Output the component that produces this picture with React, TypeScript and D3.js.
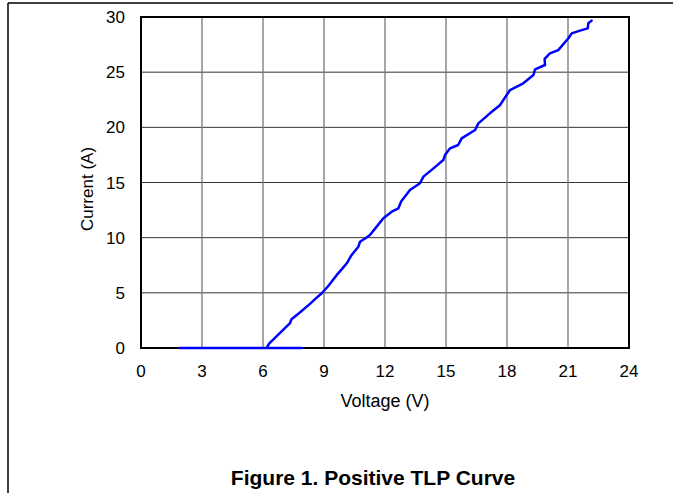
import { scaleLinear, line } from "d3"

const xTicks = [0, 3, 6, 9, 12, 15, 18, 21, 24]
const yTicks = [0, 5, 10, 15, 20, 25, 30]

// off-state leg at zero current, then the snapback rise
const voltage = [
  1.9, 7.9, 6.18, 6.3, 6.8, 7.33, 7.4, 7.8, 8.31, 8.6, 8.89, 9.2, 9.62, 9.9, 10.12, 10.36, 10.69, 10.77, 11.0,
  11.26, 11.59, 11.92, 12.33, 12.66, 12.8, 13.23, 13.72, 13.89, 14.4, 14.87, 14.95, 15.2, 15.6, 15.77, 16.43,
  16.59, 17.16, 17.65, 18.15, 18.8, 19.3, 19.38, 19.87, 19.85, 20.11, 20.52, 21.02, 21.18, 21.59, 21.97, 22.0, 22.16,
]
const current = [
  0, 0, 0, 0.4, 1.3, 2.26, 2.6, 3.2, 4.0, 4.5, 4.96, 5.6, 6.6, 7.2, 7.68, 8.43, 9.18, 9.63, 9.9,
  10.24, 11.0, 11.76, 12.35, 12.66, 13.3, 14.32, 14.93, 15.53, 16.3, 17.04, 17.49, 18.1, 18.4, 19.0, 19.76,
  20.36, 21.27, 22.0, 23.38, 23.99, 24.74, 25.25, 25.65, 26.2, 26.7, 27.0, 28.07, 28.52, 28.76, 28.97, 29.43, 29.67,
]

const W = 673
const H = 493
const left = 141, right = 629, top = 17, bottom = 348
const font = "'Liberation Sans', Arial, sans-serif"

export default function App() {
  const x = scaleLinear().domain([0, 24]).range([left, right])
  const y = scaleLinear().domain([0, 30]).range([bottom, top])
  const pts: [number, number][] = voltage.map((v, i) => [v, current[i]])
  const path = line<[number, number]>().x(d => x(d[0])).y(d => y(d[1]))(pts) || ""

  return (
    <svg width={W} height={H} style={{ position: "absolute", left: 0, top: 0, display: "block" }}>
      <rect x={0} y={0} width={W} height={H} fill="#fff" />
      {/* outer frame */}
      <line x1={8} y1={3} x2={W} y2={3} stroke="#000" strokeWidth={1.5} />
      <line x1={8} y1={3} x2={8} y2={H} stroke="#000" strokeWidth={1.5} />

      {/* grid */}
      {yTicks.slice(1, -1).map(t => (
        <line key={"h" + t} x1={left} x2={right} y1={y(t)} y2={y(t)} stroke="#333" strokeWidth={1} />
      ))}
      {xTicks.slice(1, -1).map(t => (
        <line key={"v" + t} x1={x(t)} x2={x(t)} y1={top} y2={bottom} stroke="#777" strokeWidth={1.3} />
      ))}
      <rect x={left} y={top} width={right - left} height={bottom - top} fill="none" stroke="#000" strokeWidth={2} />

      {/* curve */}
      <path d={path} fill="none" stroke="#0000ff" strokeWidth={2.5} strokeLinejoin="round" strokeLinecap="round" />

      {/* tick labels */}
      {yTicks.map(t => (
        <text key={"yl" + t} x={125} y={y(t)} dy="0.36em" textAnchor="end" fontFamily={font} fontSize={17}>{t}</text>
      ))}
      {xTicks.map(t => (
        <text key={"xl" + t} x={x(t)} y={377} textAnchor="middle" fontFamily={font} fontSize={17}>{t}</text>
      ))}

      <text x={(left + right) / 2} y={407} textAnchor="middle" fontFamily={font} fontSize={18}>Voltage (V)</text>
      <text transform={`translate(93, 189) rotate(-90)`} textAnchor="middle" fontFamily={font} fontSize={17}>Current (A)</text>
      <text x={373} y={485} textAnchor="middle" fontFamily={font} fontSize={21} fontWeight="bold">Figure 1. Positive TLP Curve</text>
    </svg>
  )
}
